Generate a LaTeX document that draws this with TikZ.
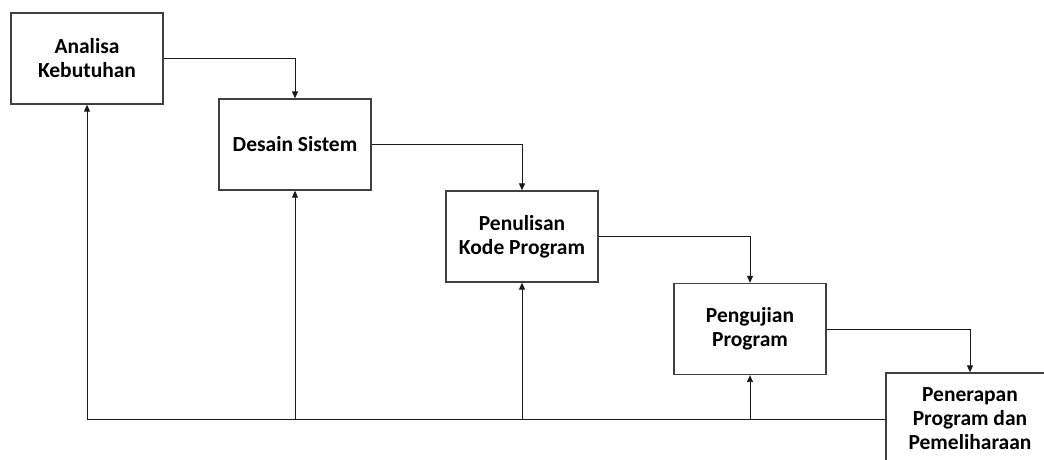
\documentclass[tikz,border=0pt]{standalone}
\usepackage{fontspec}
\setmainfont{Carlito}
\usetikzlibrary{arrows.meta}
\begin{document}
\begin{tikzpicture}[x=1pt,y=-1pt,
  box/.style={draw=black!75,line width=1.3pt,fill=white,minimum width=152pt,minimum height=91pt,
    align=center,font=\fontsize{21.5}{24}\selectfont\bfseries,inner sep=0pt},
  conn/.style={line width=0.9pt,draw=black!90,-{Triangle[length=7pt,width=6pt]}}]
\useasboundingbox (0,0) rectangle (1044,459);
\node[box] (b1) at (87,58.5) {Analisa\\Kebutuhan};
\node[box] (b2) at (295,144.5) {Desain Sistem};
\node[box] (b3) at (522,236.5) {Penulisan\\Kode Program};
\node[box] (b4) at (750,329) {Pengujian\\Program};
\node[box,minimum width=168pt,minimum height=92pt] (b5) at (970,419) {Penerapan\\Program dan\\Pemeliharaan};
\draw[conn] (b1.east) -| (b2.north);
\draw[conn] (b2.east) -| (b3.north);
\draw[conn] (b3.east) -| (b4.north);
\draw[conn] (b4.east) -| (b5.north);
\draw[conn] (b5.west) -| (b1.south);
\draw[conn] (b2.south |- b5.west) -- (b2.south);
\draw[conn] (b3.south |- b5.west) -- (b3.south);
\draw[conn] (b4.south |- b5.west) -- (b4.south);
\end{tikzpicture}
\end{document}
